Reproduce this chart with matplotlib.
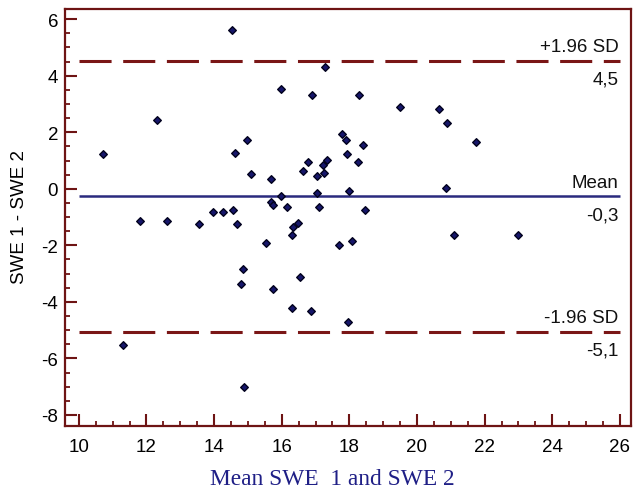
import matplotlib
matplotlib.use("Agg")
import matplotlib.pyplot as plt
from matplotlib.ticker import MultipleLocator

plt.rcParams["axes.unicode_minus"] = False

# Data: mean of two measurements (x) and difference (y)
mean_swe = [14.54, 17.28, 15.97, 16.89, 18.28, 12.30, 10.70, 14.62, 14.97, 15.08,
            15.69, 16.64, 16.78, 17.04, 17.23, 17.33, 17.26, 17.77, 17.89, 17.94,
            18.26, 18.00, 17.04, 15.97, 15.67, 15.75, 16.17, 17.10, 11.80, 12.61,
            13.56, 13.97, 14.26, 14.55, 14.67, 16.34, 16.48, 16.29, 15.53, 17.70,
            18.09, 19.50, 20.65, 20.90, 18.39, 21.75, 20.86, 18.45, 21.09, 23.00,
            14.86, 14.81, 15.75, 16.53, 16.29, 16.87, 17.96, 11.31, 14.87]
diff_swe = [5.60, 4.32, 3.52, 3.32, 3.32, 2.45, 1.24, 1.25, 1.74, 0.52,
            0.35, 0.64, 0.94, 0.45, 0.85, 1.01, 0.55, 1.93, 1.74, 1.24,
            0.94, -0.06, -0.15, -0.25, -0.45, -0.56, -0.65, -0.66, -1.13, -1.14,
            -1.23, -0.83, -0.83, -0.75, -1.25, -1.34, -1.22, -1.62, -1.93, -2.00,
            -1.86, 2.91, 2.82, 2.32, 1.54, 1.64, 0.04, -0.74, -1.63, -1.63,
            -2.83, -3.35, -3.53, -3.12, -4.22, -4.33, -4.72, -5.52, -7.01]

mean_diff = -0.27
upper_loa = 4.52
lower_loa = -5.06
line_labels_above = ["+1.96 SD", "Mean", "-1.96 SD"]
line_labels_below = ["4,5", "-0,3", "-5,1"]

frame_col = "#6e1414"
dash_col = "#7a1616"
mean_col = "#2a2a7e"
pt_face = "#16166a"
pt_edge = "#02021e"

fig = plt.figure(figsize=(6.33, 4.89), dpi=100)
ax = fig.add_axes([65/633, 1-427/489, (631-65)/633, (427-10)/489])

ax.set_xlim(9.59, 26.33)
ax.set_ylim(-8.39, 6.36)

ax.hlines(mean_diff, 10, 26, color=mean_col, lw=1.8, zorder=2)
ax.hlines([upper_loa, lower_loa], 10, 26, color=dash_col, lw=2.2,
          linestyles=(0, (10.5, 3.8)), zorder=2)

ax.scatter(mean_swe, diff_swe, marker="D", s=15, c=pt_face, edgecolors=pt_edge,
           linewidths=1.0, zorder=3)

for yv, ta, tb in zip([upper_loa, mean_diff, lower_loa], line_labels_above, line_labels_below):
    ax.annotate(ta, (26, yv), xytext=(-1, 4), textcoords="offset points",
                ha="right", va="bottom", fontsize=13.5, family="Liberation Sans", color="#111111")
    ax.annotate(tb, (26, yv), xytext=(-1, -7), textcoords="offset points",
                ha="right", va="top", fontsize=13.5, family="Liberation Sans", color="#111111")

ax.xaxis.set_minor_locator(MultipleLocator(0.5))
ax.yaxis.set_minor_locator(MultipleLocator(0.5))
ax.set_xticks(range(10, 27, 2))
ax.set_yticks(range(-8, 7, 2))

ax.tick_params(which="major", direction="in", length=8.5, width=1.5, color=frame_col,
               labelsize=13.5, labelcolor="black")
ax.tick_params(which="minor", direction="in", length=3.5, width=1.3, color=frame_col)
ax.tick_params(axis="x", which="major", pad=9)
ax.tick_params(axis="y", which="major", pad=5)
for lab in ax.get_xticklabels() + ax.get_yticklabels():
    lab.set_family("Liberation Sans")

for sp in ax.spines.values():
    sp.set_color(frame_col)
    sp.set_linewidth(1.6)

fig.text(210/633, 1-485/489, "Mean SWE  1 and SWE 2", ha="left", va="baseline",
         fontsize=16.8, family="Liberation Serif", color="#1f1f86")
fig.text(20/633, 1-217/489, "SWE 1 - SWE 2", ha="center", va="center", rotation=90,
         fontsize=13.5, family="Liberation Sans", color="black")

fig.savefig("out.png", dpi=100)
